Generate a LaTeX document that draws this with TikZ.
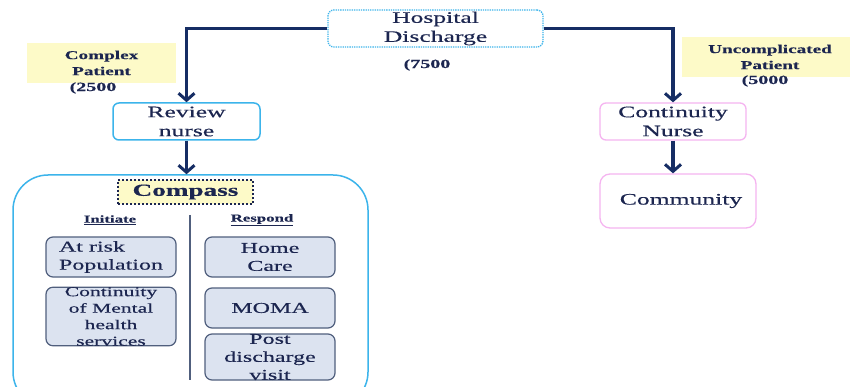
\documentclass[tikz,border=0pt]{standalone}
\usepackage{fontspec}
\setmainfont[FakeStretch=1.6,FakeBold=0.4]{Liberation Serif}
\usetikzlibrary{arrows.meta}

\definecolor{ink}{RGB}{28,38,80}
\definecolor{flow}{RGB}{22,45,100}
\definecolor{sky}{RGB}{60,180,235}
\definecolor{rose}{RGB}{245,180,240}
\definecolor{note}{RGB}{253,250,200}
\definecolor{slatefill}{RGB}{220,227,240}
\definecolor{slateedge}{RGB}{80,95,125}

\newcommand{\fs}[2]{\fontsize{#1}{#2}\selectfont}

\tikzset{
  base/.style={text=ink, align=center, inner sep=0pt},
  skybox/.style={base, draw=sky, line width=1.5pt, rounded corners=6pt, fill=white},
  rosebox/.style={base, draw=rose, line width=1.3pt, rounded corners=8pt, fill=white},
  notebox/.style={base, fill=note, font=\bfseries\fs{12}{16}},
  inbox/.style={base, draw=slateedge, fill=slatefill, line width=1.2pt,
    rounded corners=7pt, minimum width=130pt, font=\fs{15}{18}},
  count/.style={base, font=\bfseries\fs{12.5}{15}},
  flowline/.style={draw=flow, line width=3.5pt,
    -{Straight Barb[length=7pt,width=16pt,line width=3pt]}},
  heading/.style={base, font=\bfseries\fs{10.5}{12}}
}

\begin{document}
\begin{tikzpicture}[x=1pt,y=-1pt]
\useasboundingbox (0,0) rectangle (850,387);
\clip (0,0) rectangle (850,387);
\fill[white] (0,0) rectangle (850,387);

% top of the pathway
\node[base, draw=sky, densely dotted, line width=1.3pt, rounded corners=6pt,
  minimum width=215pt, minimum height=37pt, font=\fs{16}{19}]
  (hosp) at (435.5,28.5) {Hospital\\Discharge};
\node[count] (total) at (427,65) {(7500};

% category labels
\node[notebox, minimum width=149pt, minimum height=40pt] (complex) at (101.5,63) {Complex\\Patient};
\node[count] (ncomplex) at (93,88) {(2500};
\node[notebox, minimum width=176pt, minimum height=40pt] (simple) at (770,57) {Uncomplicated\\Patient};
\node[count] (nsimple) at (765,81) {(5000};

% nurses
\node[skybox, minimum width=147pt, minimum height=37pt, font=\fs{16}{19}]
  (review) at (186.5,121.5) {Review\\nurse};
\node[rosebox, minimum width=146pt, minimum height=37pt, rounded corners=6pt, font=\fs{16}{19}]
  (cnurse) at (673,121.5) {Continuity\\Nurse};
\node[rosebox, minimum width=156pt, minimum height=54pt, rounded corners=10pt,
  font=\fs{16}{19}, text width=150pt]
  (community) at (678,201) {\hspace*{6pt}Community};

% Compass programme
\node[base, draw=sky, line width=1.5pt, rounded corners=35pt,
  minimum width=355pt, minimum height=232pt] (compass) at (190.5,291) {};
\node[base, draw=ink, fill=note, dotted, line width=2pt,
  minimum width=135pt, minimum height=24pt, font=\bfseries\fs{17}{19}]
  (clabel) at (185.5,192) {Compass};
\draw[draw=slateedge, line width=1.2pt] (190,215) -- (190,380);

\node[heading] (initiate) at (110,220) {\underline{Initiate}};
\node[heading] (respond) at (262,220) {\underline{Respond}};

\node[inbox, minimum height=40pt, align=left] (risk) at (111,257) {At risk\\Population};
\node[inbox, minimum height=57pt, font=\fs{13.5}{16.5}] (mental) at (111,316.5)
  {Continuity\\of Mental\\health\\services};
\node[inbox, minimum height=40pt] (home) at (270,257) {Home\\Care};
\node[inbox, minimum height=40pt] (moma) at (270,308) {MOMA};
\node[inbox, minimum height=46pt] (post) at (270,357) {Post\\discharge\\visit};

% connectors
\draw[flowline] (hosp.west) -| (review.north);
\draw[flowline] (hosp.east) -| (cnurse.north);
\draw[flowline] (review.south) -- (review.south |- compass.north);
\draw[flowline] (cnurse.south) -- (cnurse.south |- community.north);
\end{tikzpicture}
\end{document}
